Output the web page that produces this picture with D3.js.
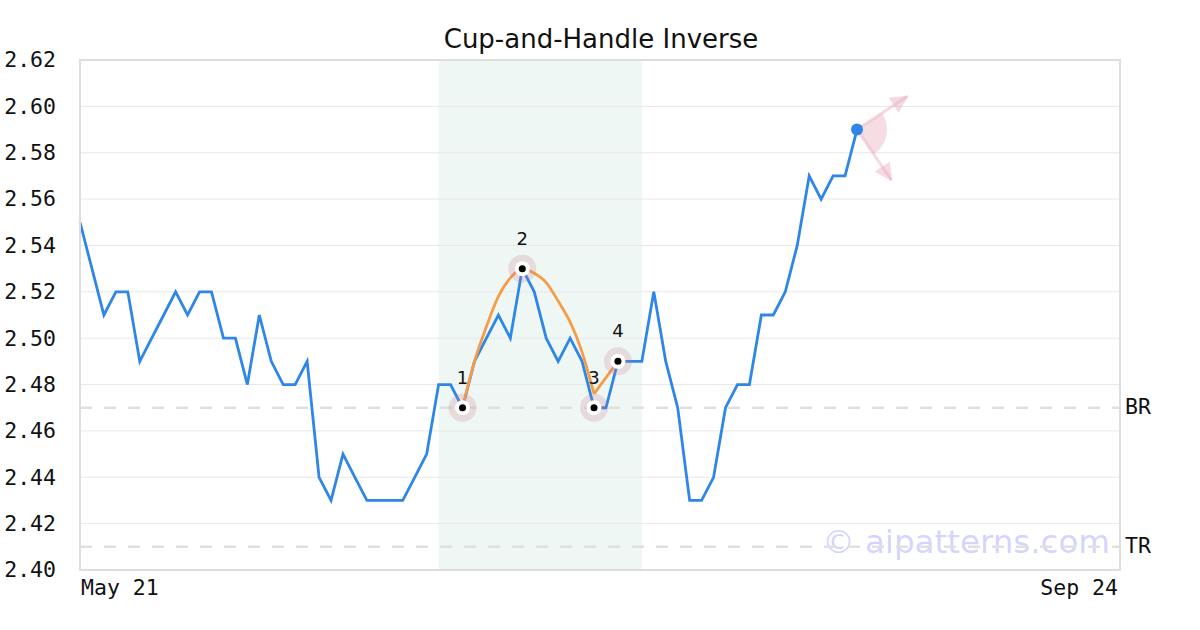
<!DOCTYPE html>
<html>
<head>
<meta charset="utf-8">
<script src="https://cdn.jsdelivr.net/npm/d3@7"></script>
<style>
  html, body { margin: 0; padding: 0; background: #fff; }
  svg { display: block; }
</style>
</head>
<body>
<svg id="chart" width="1200" height="630"></svg>
<script>
// ── 데이터 ──────────────────────────────────────────────
const closes = [
  2.55, 2.53, 2.51, 2.52, 2.52, 2.49, 2.50, 2.51, 2.52, 2.51,
  2.52, 2.52, 2.50, 2.50, 2.48, 2.51, 2.49, 2.48, 2.48, 2.49,
  2.44, 2.43, 2.45, 2.44, 2.43, 2.43, 2.43, 2.43, 2.44, 2.45,
  2.48, 2.48, 2.47, 2.49, 2.50, 2.51, 2.50, 2.53, 2.52, 2.50,
  2.49, 2.50, 2.49, 2.47, 2.47, 2.49, 2.49, 2.49, 2.52, 2.49,
  2.47, 2.43, 2.43, 2.44, 2.47, 2.48, 2.48, 2.51, 2.51, 2.52,
  2.54, 2.57, 2.56, 2.57, 2.57, 2.59
];
const X_LAST = 87;                       // 축 끝 인덱스 (Sep 24)
const xTickLabels = [{ i: 0, label: 'May 21' }, { i: X_LAST, label: 'Sep 24' }];
const yTicks = [2.40, 2.42, 2.44, 2.46, 2.48, 2.50, 2.52, 2.54, 2.56, 2.58, 2.60, 2.62];

const band = [30, 47];                   // 패턴 구간
const pivots = [
  { i: 32, v: 2.47, label: '1' },
  { i: 37, v: 2.53, label: '2' },
  { i: 43, v: 2.47, label: '3' },
  { i: 45, v: 2.49, label: '4' },
];
// 컵 곡선 (1 → 2 → 3), 손잡이 직선 (3 → 4)
const cupIdx    = [32, 33, 34, 35, 36, 37, 38, 39, 40, 41, 42, 43];
const cupVals   = [2.47, 2.49, 2.505, 2.518, 2.526, 2.53, 2.528, 2.524, 2.516, 2.507, 2.494, 2.476];
const handleIdx  = [43, 45];
const handleVals = [2.476, 2.49];
const levels = [{ v: 2.47, label: 'BR' }, { v: 2.41, label: 'TR' }];

// ── 레이아웃 ────────────────────────────────────────────
const L = 80, R = 1120, T = 60, B = 570;
const MONO = "'DejaVu Sans Mono', monospace";
const SANS = "'DejaVu Sans', sans-serif";
const BLUE = '#2e86e8';
const ORANGE = '#f59c48';

const svg = d3.select('#chart');
const x = d3.scaleLinear().domain([0, X_LAST]).range([L, R]);
const y = d3.scaleLinear().domain([2.40, 2.62]).range([B, T]);

// 제목
svg.append('text')
  .attr('x', 601).attr('y', 48)
  .attr('text-anchor', 'middle')
  .attr('font-family', SANS)
  .attr('font-size', 26)
  .attr('fill', '#111')
  .text('Cup-and-Handle Inverse');

// 패턴 구간 음영
svg.append('rect')
  .attr('x', x(band[0])).attr('y', T)
  .attr('width', x(band[1]) - x(band[0])).attr('height', B - T)
  .attr('fill', '#eef7f3');

// 격자
svg.append('g')
  .selectAll('line')
  .data(yTicks)
  .join('line')
  .attr('x1', L).attr('x2', R)
  .attr('y1', d => y(d)).attr('y2', d => y(d))
  .attr('stroke', '#e8e8e8')
  .attr('stroke-width', 1);

// y 축 라벨
const yAxis = svg.append('g')
  .attr('transform', `translate(${L},0)`)
  .call(d3.axisLeft(y).tickValues(yTicks).tickFormat(d3.format('.2f')).tickSize(0).tickPadding(24));
yAxis.select('.domain').remove();
yAxis.selectAll('text')
  .attr('font-family', MONO)
  .attr('font-size', 21.5)
  .attr('fill', '#111');

// x 축 라벨
svg.append('g')
  .selectAll('text')
  .data(xTickLabels)
  .join('text')
  .attr('x', d => x(d.i) + (d.i === 0 ? 1 : -2))
  .attr('y', 595)
  .attr('text-anchor', d => d.i === 0 ? 'start' : 'end')
  .attr('font-family', MONO)
  .attr('font-size', 21.5)
  .attr('fill', '#111')
  .text(d => d.label);

// 워터마크
svg.append('text')
  .attr('x', 1110).attr('y', 553)
  .attr('text-anchor', 'end')
  .attr('font-family', SANS)
  .attr('font-size', 32.5)
  .attr('fill', 'rgba(120,120,255,0.33)')
  .text('© aipatterns.com');

// 수평 레벨선
levels.forEach(d => {
  svg.append('line')
    .attr('x1', L).attr('x2', R)
    .attr('y1', y(d.v)).attr('y2', y(d.v))
    .attr('stroke', '#e0e0e0')
    .attr('stroke-width', 2.5)
    .attr('stroke-dasharray', '12 12');
  svg.append('text')
    .attr('x', R + 5).attr('y', y(d.v))
    .attr('dominant-baseline', 'middle')
    .attr('font-family', MONO)
    .attr('font-size', 21.5)
    .attr('fill', '#111')
    .text(d.label);
});

// 가격선
const line = d3.line().x((d, i) => x(i)).y(d => y(d));
svg.append('path')
  .datum(closes)
  .attr('d', line)
  .attr('fill', 'none')
  .attr('stroke', BLUE)
  .attr('stroke-width', 2.8);

// 컵 곡선 + 손잡이
const pairLine = d3.line().x(d => x(d[0])).y(d => y(d[1]));
svg.append('path')
  .datum(d3.zip(cupIdx, cupVals))
  .attr('d', pairLine.curve(d3.curveMonotoneX))
  .attr('fill', 'none')
  .attr('stroke', ORANGE)
  .attr('stroke-width', 2.8);
svg.append('path')
  .datum(d3.zip(handleIdx, handleVals))
  .attr('d', d3.line().x(d => x(d[0])).y(d => y(d[1])))
  .attr('fill', 'none')
  .attr('stroke', ORANGE)
  .attr('stroke-width', 2.8);

// 피벗 마커
const pg = svg.append('g').selectAll('g').data(pivots).join('g')
  .attr('transform', d => `translate(${x(d.i)},${y(d.v)})`);
pg.append('circle').attr('r', 14).attr('fill', 'rgba(200,120,140,0.22)');
pg.append('circle').attr('r', 7.5).attr('fill', '#fff');
pg.append('circle').attr('r', 3.5).attr('fill', '#000');
pg.append('text')
  .attr('y', -24)
  .attr('text-anchor', 'middle')
  .attr('font-family', SANS)
  .attr('font-size', 18)
  .attr('fill', '#111')
  .text(d => d.label);

// 마지막 점 + 방향 화살표
const lastI = closes.length - 1;
const px = x(lastI), py = y(closes[lastI]);
const PINK = 'rgba(232,170,188,0.45)';
const a1 = Math.atan2(-33, 50), a2 = Math.atan2(50, 34);

const defs = svg.append('defs');
defs.append('marker')
  .attr('id', 'ah')
  .attr('viewBox', '0 0 10 10')
  .attr('refX', 9).attr('refY', 5)
  .attr('markerWidth', 6).attr('markerHeight', 6)
  .attr('orient', 'auto')
  .append('path')
  .attr('d', 'M0,0 L10,5 L0,10 Z')
  .attr('fill', PINK);

svg.append('path')
  .attr('transform', `translate(${px},${py})`)
  .attr('d', d3.arc()({ innerRadius: 0, outerRadius: 30,
    startAngle: a1 + Math.PI / 2, endAngle: a2 + Math.PI / 2 }))
  .attr('fill', 'rgba(232,170,188,0.4)');

[[a1, 60], [a2, 61]].forEach(([a, len]) => {
  svg.append('line')
    .attr('x1', px).attr('y1', py)
    .attr('x2', px + Math.cos(a) * len).attr('y2', py + Math.sin(a) * len)
    .attr('stroke', PINK)
    .attr('stroke-width', 3)
    .attr('marker-end', 'url(#ah)');
});

svg.append('circle')
  .attr('cx', px).attr('cy', py).attr('r', 6)
  .attr('fill', BLUE);

// 외곽 테두리
svg.append('rect')
  .attr('x', L).attr('y', T)
  .attr('width', R - L).attr('height', B - T)
  .attr('fill', 'none')
  .attr('stroke', '#dddddd')
  .attr('stroke-width', 2);
</script>
</body>
</html>
